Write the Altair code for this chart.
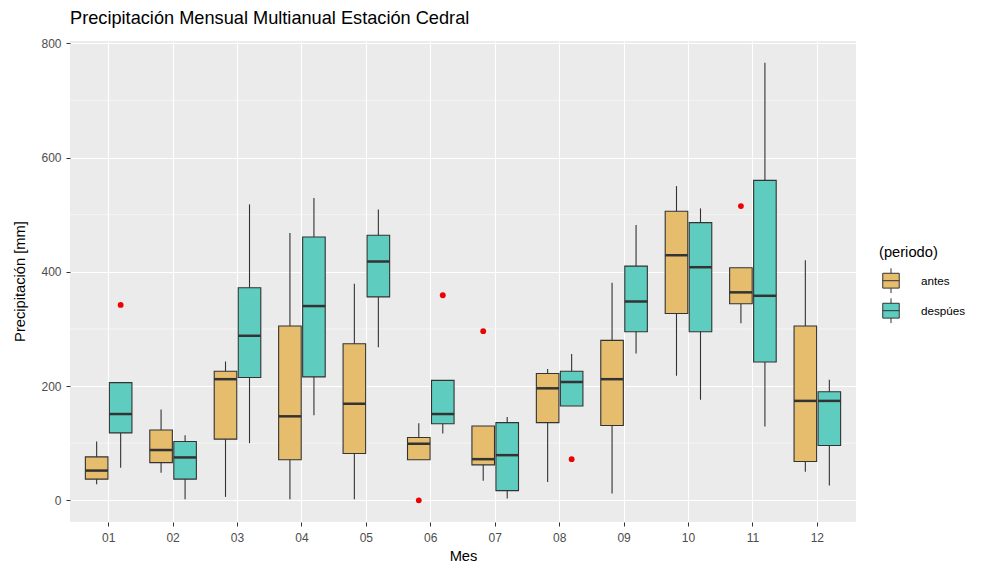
import altair as alt
import pandas as pd

meses = ["01", "02", "03", "04", "05", "06", "07", "08", "09", "10", "11", "12"]
periodos = ["antes", "despúes"]

antes_lo = [28, 48, 6, 2, 2, 71, 34, 32, 12, 218, 310, 50]
antes_q1 = [37, 66, 107, 71, 82, 71, 62, 136, 131, 327, 344, 68]
antes_med = [52, 88, 212, 147, 169, 99, 72, 196, 212, 429, 364, 174]
antes_q3 = [76, 123, 226, 305, 274, 110, 130, 222, 280, 506, 407, 305]
antes_hi = [103, 159, 243, 468, 379, 135, 130, 230, 381, 550, 407, 420]

despues_lo = [57, 2, 100, 149, 268, 117, 3, 165, 257, 176, 129, 26]
despues_q1 = [118, 37, 215, 216, 356, 134, 17, 165, 295, 295, 242, 96]
despues_med = [151, 75, 288, 340, 418, 151, 79, 207, 348, 408, 358, 174]
despues_q3 = [206, 103, 372, 461, 464, 210, 136, 226, 410, 486, 560, 190]
despues_hi = [206, 114, 518, 529, 509, 210, 146, 256, 482, 511, 766, 211]

out_mes = ["01", "06", "06", "07", "08", "11"]
out_periodo = ["despúes", "antes", "despúes", "antes", "despúes", "antes"]
out_valor = [342, 0, 359, 296, 72, 515]

minor_breaks = [100, 300, 500, 700]
major_breaks = [0, 200, 400, 600, 800]
colores = ["#E5BD6D", "#5ECDC0"]

rows = []
for i, m in enumerate(meses):
    rows.append(dict(mes=m, periodo="antes", lo=antes_lo[i], q1=antes_q1[i],
                     med=antes_med[i], q3=antes_q3[i], hi=antes_hi[i]))
    rows.append(dict(mes=m, periodo="despúes", lo=despues_lo[i], q1=despues_q1[i],
                     med=despues_med[i], q3=despues_q3[i], hi=despues_hi[i]))
box = pd.DataFrame(rows)
outl = pd.DataFrame(dict(mes=out_mes, periodo=out_periodo, valor=out_valor))
minor = pd.DataFrame(dict(v=minor_breaks))

FONT = "Liberation Sans"
yscale = alt.Scale(domain=[-38, 804], nice=False, zero=False)
xscale = alt.Scale(domain=meses, paddingInner=0, paddingOuter=0.1)
xoffscale = alt.Scale(domain=periodos, paddingInner=0.06, paddingOuter=0.372)

yaxis = alt.Axis(values=major_breaks, title="Precipitación [mm]", grid=True,
                 gridColor="white", gridWidth=1.1, titleX=-50, titleY=240,
                 titleAngle=270, titleAlign="center", titleBaseline="middle",
                 labelPadding=5)
xaxis = alt.Axis(title="Mes", grid=True, gridColor="white", gridWidth=1.1,
                 bandPosition=0.5, labelAngle=0, labelPadding=6, titlePadding=5)


def Y(field):
    return alt.Y(field, type="quantitative", scale=yscale, axis=yaxis, title="Precipitación [mm]")


def X():
    return alt.X("mes:N", scale=xscale, axis=xaxis, title="Mes")


XO = alt.XOffset("periodo:N", scale=xoffscale)

minor_layer = alt.Chart(minor).mark_rule(color="white", strokeWidth=0.5).encode(y=Y("v"))

whisker = alt.Chart(box).mark_rule(color="#333333", strokeWidth=1.1).encode(
    x=X(), xOffset=XO, y=Y("lo"), y2="hi"
)

glyph = "M-1,-0.9H1V0.9H-1Z M-1,0H1 M0,-0.9V-1.5 M0,0.9V1.5"

bars = alt.Chart(box).mark_bar(stroke="#333333", strokeWidth=1.1, opacity=1).encode(
    x=X(), xOffset=XO, y=Y("q1"), y2="q3",
    fill=alt.Fill("periodo:N", scale=alt.Scale(domain=periodos, range=colores),
                  legend=alt.Legend(title="(periodo)", orient="none", legendX=809, legendY=204,
                                    symbolType=glyph, symbolSize=272,
                                    symbolStrokeColor="#333333", symbolStrokeWidth=1,
                                    symbolOffset=3, labelOffset=21, rowPadding=0,
                                    titlePadding=12, labelFontSize=11.7, labelColor="black",
                                    labelFont=FONT, titleFont=FONT, titleFontSize=14.7,
                                    titleFontWeight="normal", titleColor="black"))
)

medians = alt.Chart(box).mark_tick(color="#333333", thickness=2.5, size=22.6, opacity=1).encode(
    x=X(), xOffset=XO, y=Y("med")
)

outliers = alt.Chart(outl).mark_circle(color="#F00000", size=34, opacity=1).encode(
    x=X(), xOffset=XO, y=Y("valor")
)

chart = alt.layer(minor_layer, whisker, bars, medians, outliers).properties(
    width=786, height=481,
    autosize=alt.AutoSizeParams(type="none"),
    padding={"left": 62, "top": 33, "right": 126, "bottom": 42},
    title=alt.TitleParams("Precipitación Mensual Multianual Estación Cedral", anchor="start",
                          frame="group", fontSize=18.2, font=FONT, fontWeight="normal",
                          color="black", offset=9),
).configure_view(fill="#EBEBEB", stroke=None).configure_axis(
    domain=False, tickColor="#333333", tickSize=4, labelColor="#4D4D4D",
    labelFontSize=12, labelFont=FONT, titleFont=FONT, titleFontSize=14.7,
    titleFontWeight="normal", titleColor="black"
)

chart.save("out.html", embed_options={"renderer": "svg", "actions": False})
